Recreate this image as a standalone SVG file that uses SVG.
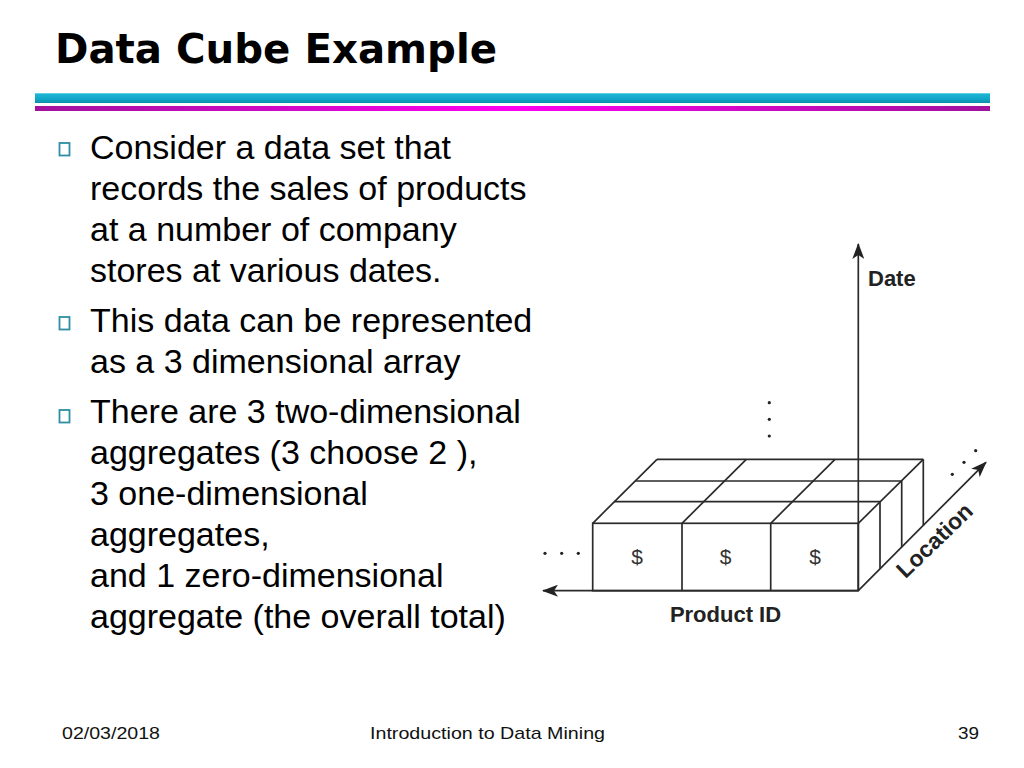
<svg xmlns="http://www.w3.org/2000/svg" width="1024" height="768" viewBox="0 0 1024 768">
<defs>
<linearGradient id="cy" x1="0" y1="0" x2="0" y2="1">
<stop offset="0" stop-color="#7fdcec"/>
<stop offset="0.15" stop-color="#1cb4d4"/>
<stop offset="0.6" stop-color="#12a6c8"/>
<stop offset="1" stop-color="#0a8fa8"/>
</linearGradient>
<linearGradient id="mg" x1="0" y1="0" x2="1" y2="0">
<stop offset="0" stop-color="#a0129c"/>
<stop offset="0.5" stop-color="#ff00f0"/>
<stop offset="1" stop-color="#a0129c"/>
</linearGradient>
<marker id="ah" viewBox="0 0 16 12" refX="15" refY="6" markerWidth="16" markerHeight="12" markerUnits="userSpaceOnUse" orient="auto">
<path d="M0,0 L16,6 L0,12 L4,6 Z" fill="#222"/>
</marker>
</defs>
<style>
.body{font-family:"Liberation Sans",Arial,sans-serif;font-size:34px;fill:#000}
.bul{fill:none;stroke:#2f8ea3;stroke-width:1.8}
.ln{fill:none;stroke:#2a2a2a;stroke-width:1.7}
.ax{fill:none;stroke:#2a2a2a;stroke-width:1.7}
.lab{font-family:"Liberation Sans",Arial,sans-serif;font-weight:bold;fill:#222}
.dol{font-family:"Liberation Sans",Arial,sans-serif;font-size:21px;fill:#333;text-anchor:middle}
.dot{fill:#222}
.ft{font-family:"Liberation Sans",Arial,sans-serif;font-size:17px;fill:#111}
</style>
<rect width="1024" height="768" fill="#fff"/>
<text x="55" y="63" font-family="DejaVu Sans, Verdana, sans-serif" font-weight="bold" font-size="40" textLength="442" lengthAdjust="spacingAndGlyphs" fill="#000">Data Cube Example</text>
<rect x="35" y="93" width="955" height="10" fill="url(#cy)"/>
<rect x="35" y="106" width="955" height="5" fill="url(#mg)"/>

<g id="bullets">
<rect class="bul" x="59.5" y="143" width="10" height="12.5"/>
<rect class="bul" x="59.5" y="317" width="10" height="12.5"/>
<rect class="bul" x="59.5" y="410" width="10" height="12.5"/>
</g>
<g id="text">
<text class="body" x="90" y="159">Consider a data set that</text>
<text class="body" x="90" y="200">records the sales of products</text>
<text class="body" x="90" y="241">at a number of company</text>
<text class="body" x="90" y="282">stores at various dates.</text>
<text class="body" x="90" y="332">This data can be represented</text>
<text class="body" x="90" y="373">as a 3 dimensional array</text>
<text class="body" x="90" y="423">There are 3 two-dimensional</text>
<text class="body" x="90" y="464">aggregates (3 choose 2 ),</text>
<text class="body" x="90" y="505">3 one-dimensional</text>
<text class="body" x="90" y="546">aggregates,</text>
<text class="body" x="90" y="587">and 1 zero-dimensional</text>
<text class="body" x="90" y="628">aggregate (the overall total)</text>
</g>

<g id="cube">
<rect class="ln" x="592.7" y="523.3" width="265.6" height="67.4"/>
<line class="ln" x1="682" y1="523.3" x2="682" y2="590.7"/>
<line class="ln" x1="770.7" y1="523.3" x2="770.7" y2="590.7"/>
<line class="ln" x1="614" y1="501.7" x2="880" y2="501.7"/>
<line class="ln" x1="635.5" y1="481" x2="901.7" y2="481"/>
<line class="ln" x1="657" y1="459.3" x2="923.3" y2="459.3"/>
<line class="ln" x1="592.7" y1="523.3" x2="657" y2="459.3"/>
<line class="ln" x1="682" y1="523.3" x2="746.3" y2="459.3"/>
<line class="ln" x1="770.7" y1="523.3" x2="835" y2="459.3"/>
<line class="ln" x1="858.3" y1="523.3" x2="923.3" y2="459.3"/>
<line class="ln" x1="880" y1="501.7" x2="880" y2="569"/>
<line class="ln" x1="901.7" y1="481" x2="901.7" y2="547.3"/>
<line class="ln" x1="923.3" y1="459.3" x2="923.3" y2="525.7"/>
<text class="dol" x="637" y="564">$</text>
<text class="dol" x="725.5" y="564">$</text>
<text class="dol" x="815" y="564">$</text>
</g>

<g id="connectors">
<line class="ax" x1="858.3" y1="590.7" x2="543" y2="590.7" marker-end="url(#ah)"/>
<line class="ax" x1="858.3" y1="590.7" x2="858.3" y2="244" marker-end="url(#ah)"/>
<line class="ax" x1="858.3" y1="590.7" x2="986" y2="462.3" marker-end="url(#ah)"/>
</g>

<g id="labels">
<text class="lab" x="868" y="286" font-size="22">Date</text>
<text class="lab" x="725.5" y="622" font-size="22" text-anchor="middle">Product ID</text>
<text class="lab" font-size="23" text-anchor="middle" transform="translate(940,546) rotate(-44)">Location</text>
</g>

<g id="dots">
<circle class="dot" cx="545" cy="553.3" r="1.6"/>
<circle class="dot" cx="561.7" cy="553.3" r="1.6"/>
<circle class="dot" cx="578.3" cy="553.3" r="1.6"/>
<circle class="dot" cx="769.3" cy="402.7" r="1.6"/>
<circle class="dot" cx="769.3" cy="419.3" r="1.6"/>
<circle class="dot" cx="769.3" cy="436" r="1.6"/>
<circle class="dot" cx="952.3" cy="474.3" r="1.6"/>
<circle class="dot" cx="964" cy="462.3" r="1.6"/>
<circle class="dot" cx="975.7" cy="450.7" r="1.6"/>
</g>

<g id="footer">
<text class="ft" x="62" y="739" textLength="98" lengthAdjust="spacingAndGlyphs">02/03/2018</text>
<text class="ft" x="370" y="739" textLength="235" lengthAdjust="spacingAndGlyphs">Introduction to Data Mining</text>
<text class="ft" x="958" y="739" textLength="21" lengthAdjust="spacingAndGlyphs">39</text>
</g>
</svg>
